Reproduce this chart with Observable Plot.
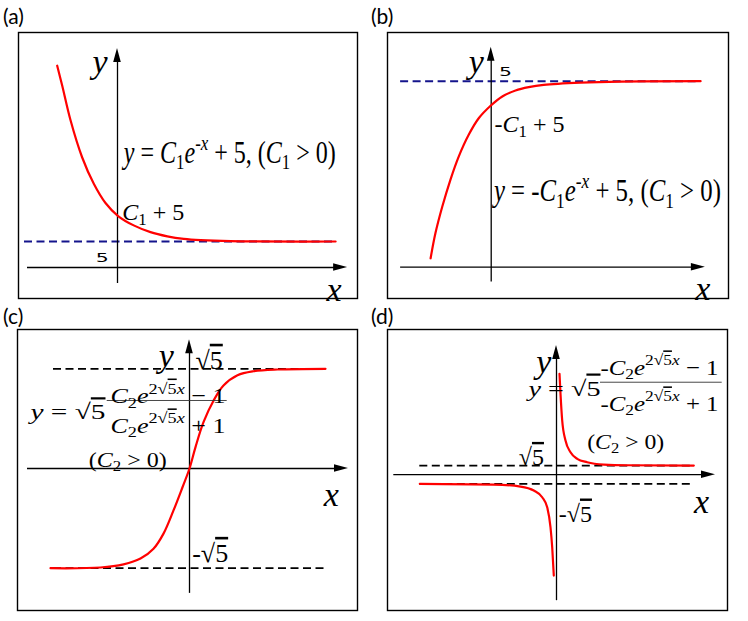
<!DOCTYPE html>
<html><head><meta charset="utf-8">
<script src="https://cdn.jsdelivr.net/npm/d3@7"></script>
<script src="https://cdn.jsdelivr.net/npm/@observablehq/plot@0.6"></script>
<style>
html,body{margin:0;padding:0;background:#fff;}
#wrap{position:relative;width:748px;height:621px;overflow:hidden;background:#fff;}
.tag{position:absolute;font-family:Lato,"Open Sans",sans-serif;font-size:21px;line-height:1;color:#000;}
.pnl{position:absolute;}
.pnl svg{display:block;overflow:visible;background:transparent;}
</style></head><body><div id="wrap"></div>
<script>
// ---------- data ----------
// (a) y = C1 e^{-x} + 5
const aX = [-2.01,-1.84,-1.57,-1.18,-0.79,-0.40,0.02,0.54,1.10,1.66,2.21,2.77,3.77,7.27];
const aY = [38.8,34.9,28.4,21.2,16.1,12.4,9.9,8.1,6.8,6.0,5.5,5.25,5.06,5.0];
// (b) y = -C1 e^{-x} + 5
const bX = [-2.02,-1.86,-1.63,-1.36,-1.08,-0.75,-0.41,-0.02,0.37,0.81,1.25,1.75,2.98,4.31,6.98];
const bY = [0.24,0.91,1.63,2.35,2.98,3.56,4.01,4.34,4.59,4.75,4.84,4.90,4.96,4.99,5.0];
// (c) tanh-like curve between ±√5
const cX = [-1.39,-0.89,-0.66,-0.49,-0.36,-0.26,-0.16,-0.07,0,0.06,0.14,0.24,0.34,0.48,0.64,0.88,1.36];
const cY = [-2.236,-2.22,-2.15,-2.02,-1.80,-1.46,-0.94,-0.42,0,0.48,1.04,1.52,1.86,2.09,2.18,2.22,2.236];
// (d) two branches outside ±√5
const dUpX = [0.03,0.04,0.057,0.09,0.14,0.207,0.307,0.473,0.707,1.373];
const dUpY = [24.66,19.77,13.24,8.35,5.49,3.88,3.04,2.48,2.31,2.236];
const dLoX = [-1.367,-0.627,-0.36,-0.227,-0.143,-0.093,-0.06,-0.043,-0.027];
const dLoY = [-2.236,-2.41,-2.90,-3.87,-5.51,-7.96,-12.85,-17.74,-24.66];

// asymptotes
const asymA = [{y:5, x1:-3.1, x2:7.27}];
const asymB = [{y:5, x1:-3.02, x2:6.98}];
const asymC = [{y:2.236, x1:-1.36, x2:1.36},{y:-2.236, x1:-1.36, x2:1.36}];
const asymD = [{y:2.236, x1:-1.367, x2:1.357},{y:-2.236, x1:-1.367, x2:1.357}];

// axis extents
const axA = {x:[-3.0,7.67], y:[-3.08,42.1]};
const axB = {x:[-3.02,7.14], y:[-0.40,5.91]};
const axC = {x:[-1.62,1.59], y:[-2.80,2.886]};
const axD = {x:[-1.627,1.59], y:[-30.8,31.6]};

// fraction bars
const fracC = [{y:1.525, x1:-0.823, x2:0.377}];
const fracD = [{y:22.6, x1:0.44, x2:1.657}];

// labels (math markup: _ sub, ^ sup, √{..} radical)
const labelsA = [
  {s:"y", x:-0.58, y:41.58},
  {s:"x", x:7.22, y:-2.19},
  {s:"5", x:-0.51, y:2.63},
  {s:"C_1 + 5", x:0.16, y:12.1},
  {s:"y = C_1e^{-x} + 5, (C_1 > 0)", x:0.21, y:24.0}
];
const labelsB = [
  {s:"y", x:-0.5, y:5.80},
  {s:"x", x:7.05, y:-0.29},
  {s:"5", x:0.48, y:5.35},
  {s:"-C_1 + 5", x:0.11, y:4.06},
  {s:"y = -C_1e^{-x} + 5, (C_1 > 0)", x:0.09, y:2.31}
];
const labelsC = [
  {s:"y", x:-0.232, y:2.76},
  {s:"x", x:1.417, y:-0.36},
  {s:"√{5}", x:0.06, y:2.61},
  {s:"-√{5}", x:0.027, y:-1.72},
  {s:"y = √{5}", x:-1.59, y:1.42},
  {s:"C_2e^{2√{5}x} − 1", x:-0.79, y:1.79},
  {s:"C_2e^{2√{5}x} + 1", x:-0.79, y:1.12},
  {s:"(C_2 > 0)", x:-1.007, y:0.36}
];
const labelsD = [
  {s:"y", x:-0.127, y:30.16},
  {s:"x", x:1.45, y:-4.07},
  {s:"√{5}", x:-0.377, y:6.15},
  {s:"-√{5}", x:0.023, y:-7.69},
  {s:"y = √{5}", x:-0.28, y:22.8},
  {s:"-C_2e^{2√{5}x} − 1", x:0.44, y:27.9},
  {s:"-C_2e^{2√{5}x} + 1", x:0.44, y:19.1},
  {s:"(C_2 > 0)", x:0.307, y:9.6}
];

// ---------- styles / layout ----------
const axisLbl = {size:34, anchor:"middle"};
const small5 = {size:12.5, anchor:"middle", family:"DejaVu Sans", width:13};
const styleA = {"y":axisLbl, "x":axisLbl, "5":small5,
  "C_1 + 5":{size:24, anchor:"start"},
  "y = C_1e^{-x} + 5, (C_1 > 0)":{size:31, anchor:"start", width:212}};
const styleB = {"y":axisLbl, "x":axisLbl, "5":small5,
  "-C_1 + 5":{size:24, anchor:"start"},
  "y = -C_1e^{-x} + 5, (C_1 > 0)":{size:31, anchor:"start", width:227}};
const styleC = {"y":axisLbl, "x":axisLbl,
  "√{5}":{size:26, anchor:"start"}, "-√{5}":{size:26, anchor:"start"},
  "y = √{5}":{size:22, anchor:"start", width:75},
  "C_2e^{2√{5}x} − 1":{size:22, anchor:"start", width:115},
  "C_2e^{2√{5}x} + 1":{size:22, anchor:"start", width:115},
  "(C_2 > 0)":{size:22, anchor:"start", width:78}};
const styleD = {"y":axisLbl, "x":axisLbl,
  "√{5}":{size:24, anchor:"start"}, "-√{5}":{size:24, anchor:"start"},
  "y = √{5}":{size:22, anchor:"start", width:72},
  "-C_2e^{2√{5}x} − 1":{size:22, anchor:"start", width:118},
  "-C_2e^{2√{5}x} + 1":{size:22, anchor:"start", width:118},
  "(C_2 > 0)":{size:21, anchor:"start", width:77}};

const panels = [
  {tag:"(a)", tagPos:[3,5], box:[18,32,357,298], xd:[-3.3,8.0], yd:[-5.96,45.19], ax:axA,
   asym:asymA, dash:"#14148c", dashW:2, curves:[{x:aX,y:aY,c:"catmull-rom"}], labels:labelsA, style:styleA},
  {tag:"(b)", tagPos:[371,5], box:[387,32,728,298], xd:[-3.457,7.91], yd:[-0.841,6.309], ax:axB,
   asym:asymB, dash:"#14148c", dashW:2, curves:[{x:bX,y:bY,c:"catmull-rom"}], labels:labelsB, style:styleB},
  {tag:"(c)", tagPos:[3,305], box:[17,329,357,610], xd:[-1.72,1.68], yd:[-3.184,3.117], ax:axC,
   asym:asymC, dash:"#000", dashW:1.8, curves:[{x:cX,y:cY,c:"catmull-rom"}], frac:fracC, labels:labelsC, style:styleC},
  {tag:"(d)", tagPos:[371,305], box:[387,329,727,610], xd:[-1.69,1.71], yd:[-33.2,35.49], ax:axD,
   asym:asymD, dash:"#000", dashW:1.8, curves:[{x:dUpX,y:dUpY,c:"monotone-x"},{x:dLoX,y:dLoY,c:"monotone-x"}], frac:fracD, labels:labelsD, style:styleD}
];

// ---------- math text helper ----------
const NS = "http://www.w3.org/2000/svg";
function group(str, j){
  if (str[j] === "{"){ let depth=0;
    for (let k=j;k<str.length;k++){ if(str[k]==="{")depth++; else if(str[k]==="}"){depth--; if(depth===0) return [str.slice(j+1,k), k+1];} }
    return [str.slice(j+1), str.length]; }
  return [str[j]||"", j+1];
}
function parse(str, ctx, out){
  let i=0;
  while(i<str.length){
    const c=str[i];
    if(c==="_"||c==="^"){ const [g,ni]=group(str,i+1); parse(g,{...ctx, sh: c==="_"?-1:1}, out); i=ni; }
    else if(c==="√" && str[i+1]==="{"){ out.push({t:"√",...ctx}); const [g,ni]=group(str,i+1); parse(g,{...ctx, ov:true}, out); i=ni; }
    else { out.push({t:c,...ctx}); i++; }
  }
}
function mathify(el, src, st){
  const fs = st.size;
  const segs=[]; parse(src,{sh:0,ov:false},segs);
  segs.forEach(s=>s.it=/[A-Za-z]/.test(s.t));
  const merged=[];
  for(const s of segs){ const l=merged[merged.length-1];
    if(l && l.sh===s.sh && l.ov===s.ov && l.it===s.it) l.t+=s.t; else merged.push({...s}); }
  el.textContent="";
  el.setAttribute("font-size", fs);
  el.setAttribute("font-family", st.family || "'Liberation Serif','DejaVu Serif',serif");
  el.setAttribute("text-anchor", st.anchor);
  el.setAttribute("dy", 0.32*fs);
  el.setAttribute("fill", "#000");
  el.style.whiteSpace="pre";
  let cur=0;
  for(const s of merged){
    const ts=document.createElementNS(NS,"tspan");
    const off = s.sh===-1 ? 0.22*fs : s.sh===1 ? -0.42*fs : 0;
    if(s.sh) ts.setAttribute("font-size", fs*0.7);
    if(off!==cur){ ts.setAttribute("dy", off-cur); cur=off; }
    if(s.it && !st.family) ts.setAttribute("font-style","italic");
    if(s.ov) ts.setAttribute("text-decoration","overline");
    ts.textContent=s.t;
    el.appendChild(ts);
  }
  if(st.width){ el.setAttribute("textLength", st.width); el.setAttribute("lengthAdjust","spacingAndGlyphs"); }
}

// ---------- build ----------
const wrap = document.getElementById("wrap");
for (const p of panels){
  const [bx0,by0,bx1,by1]=p.box, bw=bx1-bx0, bh=by1-by0;
  const kx = bw/(p.xd[1]-p.xd[0]), ky = bh/(p.yd[1]-p.yd[0]);
  const L=14, HW=3.8, ax=p.ax;
  const marks = [
    Plot.frame({stroke:"#000", strokeWidth:1.4}),
    Plot.ruleY(p.asym, {y:"y", x1:"x1", x2:"x2", stroke:p.dash, strokeWidth:p.dashW, strokeDasharray:"8,4.5"}),
    Plot.ruleY([{y:0, x1:ax.x[0], x2:ax.x[1]-0.5*L/kx}], {y:"y", x1:"x1", x2:"x2", stroke:"#000", strokeWidth:1.3}),
    Plot.ruleX([{x:0, y1:ax.y[0], y2:ax.y[1]-0.5*L/ky}], {x:"x", y1:"y1", y2:"y2", stroke:"#000", strokeWidth:1.3}),
    Plot.areaY([{x:ax.x[1]-L/kx, lo:-HW/ky, hi:HW/ky},{x:ax.x[1], lo:0, hi:0}], {x:"x", y1:"lo", y2:"hi", fill:"#000"}),
    Plot.areaX([{y:ax.y[1]-L/ky, lo:-HW/kx, hi:HW/kx},{y:ax.y[1], lo:0, hi:0}], {y:"y", x1:"lo", x2:"hi", fill:"#000"}),
    ...p.curves.map(c=>Plot.line(c.y, {x:c.x, y:c.y, stroke:"#ff0000", strokeWidth:2.2, curve:c.c})),
    ...(p.frac ? [Plot.ruleY(p.frac, {y:"y", x1:"x1", x2:"x2", stroke:"#333", strokeWidth:0.9})] : []),
    Plot.text(p.labels, {x:"x", y:"y", text:"s"})
  ];
  const svg = Plot.plot({width:bw+4, height:bh+4, margin:2,
    x:{domain:p.xd, axis:null}, y:{domain:p.yd, axis:null}, marks});
  const div = document.createElement("div");
  div.className="pnl"; div.style.left=(bx0-2)+"px"; div.style.top=(by0-2)+"px";
  div.appendChild(svg); wrap.appendChild(div);
  d3.select(svg).selectAll("text").each(function(){
    const src=this.textContent; const st=p.style[src];
    if(st) mathify(this, src, st);
  });
  const tag=document.createElement("div");
  tag.className="tag"; tag.textContent=p.tag;
  tag.style.left=p.tagPos[0]+"px"; tag.style.top=p.tagPos[1]+"px";
  wrap.appendChild(tag);
}
</script></body></html>
